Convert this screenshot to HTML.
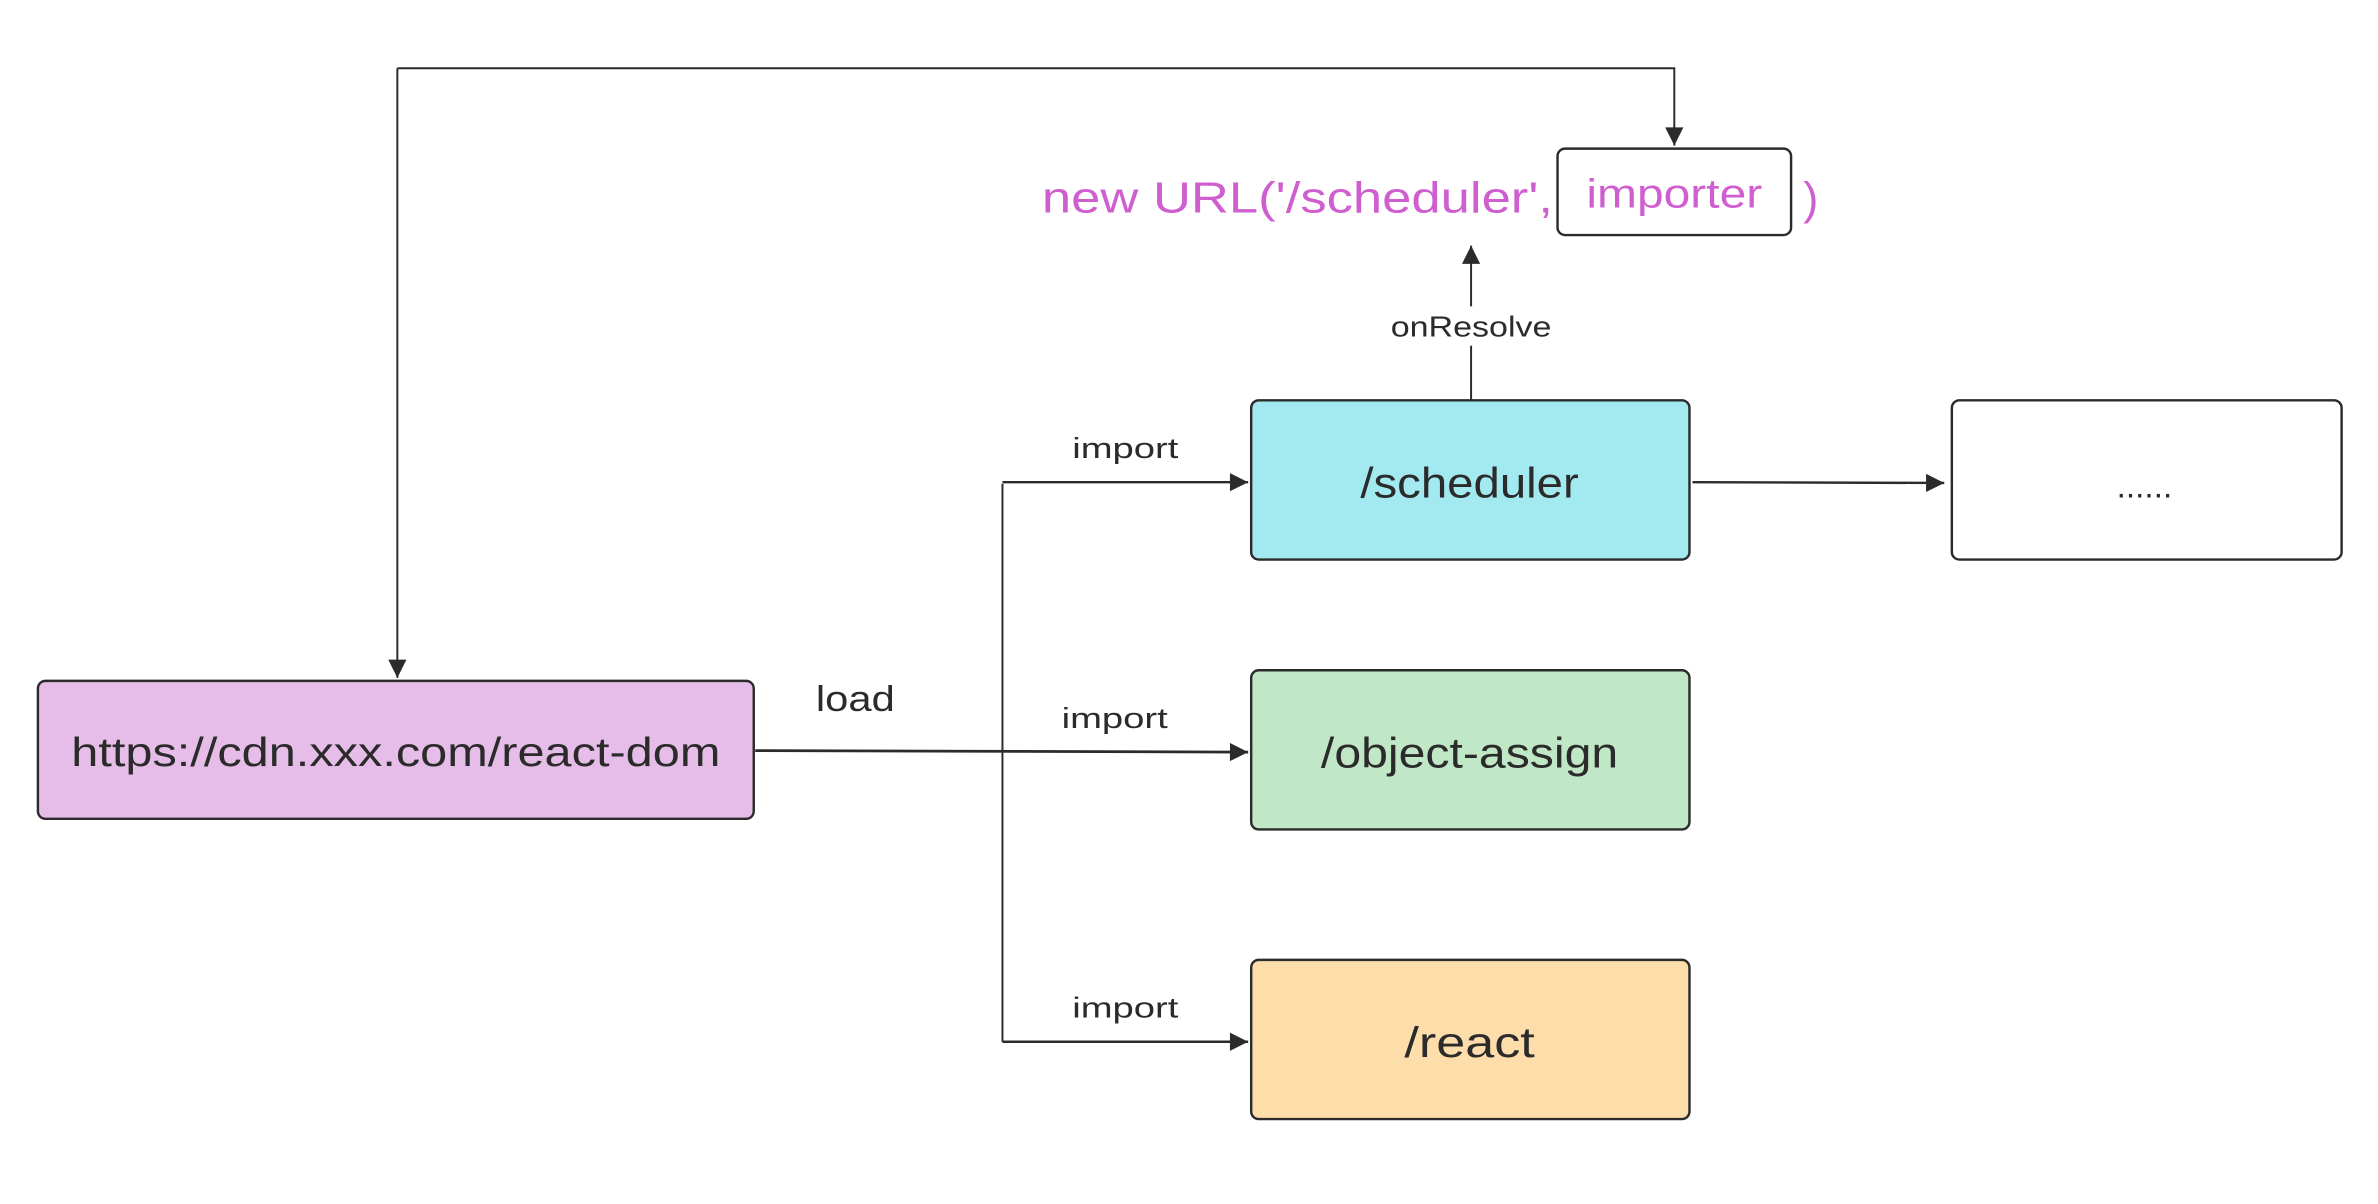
<!DOCTYPE html>
<html><head><meta charset="utf-8"><style>html,body{margin:0;padding:0;background:#fff}svg{display:block}</style></head>
<body>
<svg width="2378" height="1204" viewBox="0 0 1568 794" preserveAspectRatio="none" xmlns="http://www.w3.org/2000/svg" font-family="'Liberation Sans', sans-serif">
<defs>
<marker id="a" viewBox="0 0 10 10" refX="10" refY="5" markerWidth="10" markerHeight="10" markerUnits="userSpaceOnUse" orient="auto"><path d="M0,0 L10,5 L0,10 z" fill="#2b2b2b"/></marker>
<marker id="b" viewBox="0 0 10 10" refX="10" refY="5" markerWidth="16" markerHeight="12" markerUnits="userSpaceOnUse" orient="auto"><path d="M0,0 L10,5 L0,10 z" fill="#2b2b2b"/></marker>
</defs>
<g fill="none" stroke="#2b2b2b" stroke-width="1.3">
<path d="M262,45 H1104 V96" marker-end="url(#b)"/>
<path d="M262,45 V447" marker-end="url(#b)"/>
<path d="M498,495 L823,496" stroke-width="1.8" marker-end="url(#b)"/>
<path d="M661,319 V687"/>
<path d="M661,318 H823" stroke-width="1.6" marker-end="url(#b)"/>
<path d="M661,687 H823" stroke-width="1.6" marker-end="url(#b)"/>
<path d="M1116,318 L1282,318.5" stroke-width="1.6" marker-end="url(#b)"/>
<path d="M970,264 V162" marker-end="url(#b)"/>
</g>
<g stroke="#2b2b2b" stroke-width="1.6">
<rect x="25" y="449" width="472" height="91" rx="5" fill="#e6bde8"/>
<rect x="825" y="264" width="289" height="105" rx="5" fill="#a3e9f0"/>
<rect x="825" y="442" width="289" height="105" rx="5" fill="#c0e8c6"/>
<rect x="825" y="633" width="289" height="105" rx="5" fill="#fddeab"/>
<rect x="1287" y="264" width="257" height="105" rx="5" fill="#fff"/>
<rect x="1027" y="98" width="154" height="57" rx="5" fill="#fff"/>
</g>
<rect x="914" y="202" width="112" height="26" fill="#fff"/>
<g fill="#2b2b2b" text-anchor="middle">
<text x="261" y="505" font-size="27" textLength="428" lengthAdjust="spacingAndGlyphs">https://cdn.xxx.com/react-dom</text>
<text x="969" y="328" font-size="28" textLength="144" lengthAdjust="spacingAndGlyphs">/scheduler</text>
<text x="969" y="506" font-size="28" textLength="196" lengthAdjust="spacingAndGlyphs">/object-assign</text>
<text x="969" y="697" font-size="28" textLength="86" lengthAdjust="spacingAndGlyphs">/react</text>
<text x="1414" y="328" font-size="22">......</text>
<text x="564" y="469" font-size="24" textLength="52" lengthAdjust="spacingAndGlyphs">load</text>
<text x="742" y="302" font-size="19" textLength="70" lengthAdjust="spacingAndGlyphs">import</text>
<text x="735" y="480" font-size="19" textLength="70" lengthAdjust="spacingAndGlyphs">import</text>
<text x="742" y="671" font-size="19" textLength="70" lengthAdjust="spacingAndGlyphs">import</text>
<text x="970" y="222" font-size="19" textLength="106" lengthAdjust="spacingAndGlyphs">onResolve</text>
</g>
<g fill="#cf5fcf">
<text x="687" y="140" font-size="29" textLength="337" lengthAdjust="spacingAndGlyphs">new URL('/scheduler',</text>
<text x="1104" y="137" font-size="27" text-anchor="middle" textLength="116" lengthAdjust="spacingAndGlyphs">importer</text>
<text x="1189" y="141" font-size="30">)</text>
</g>
</svg>
</body></html>
